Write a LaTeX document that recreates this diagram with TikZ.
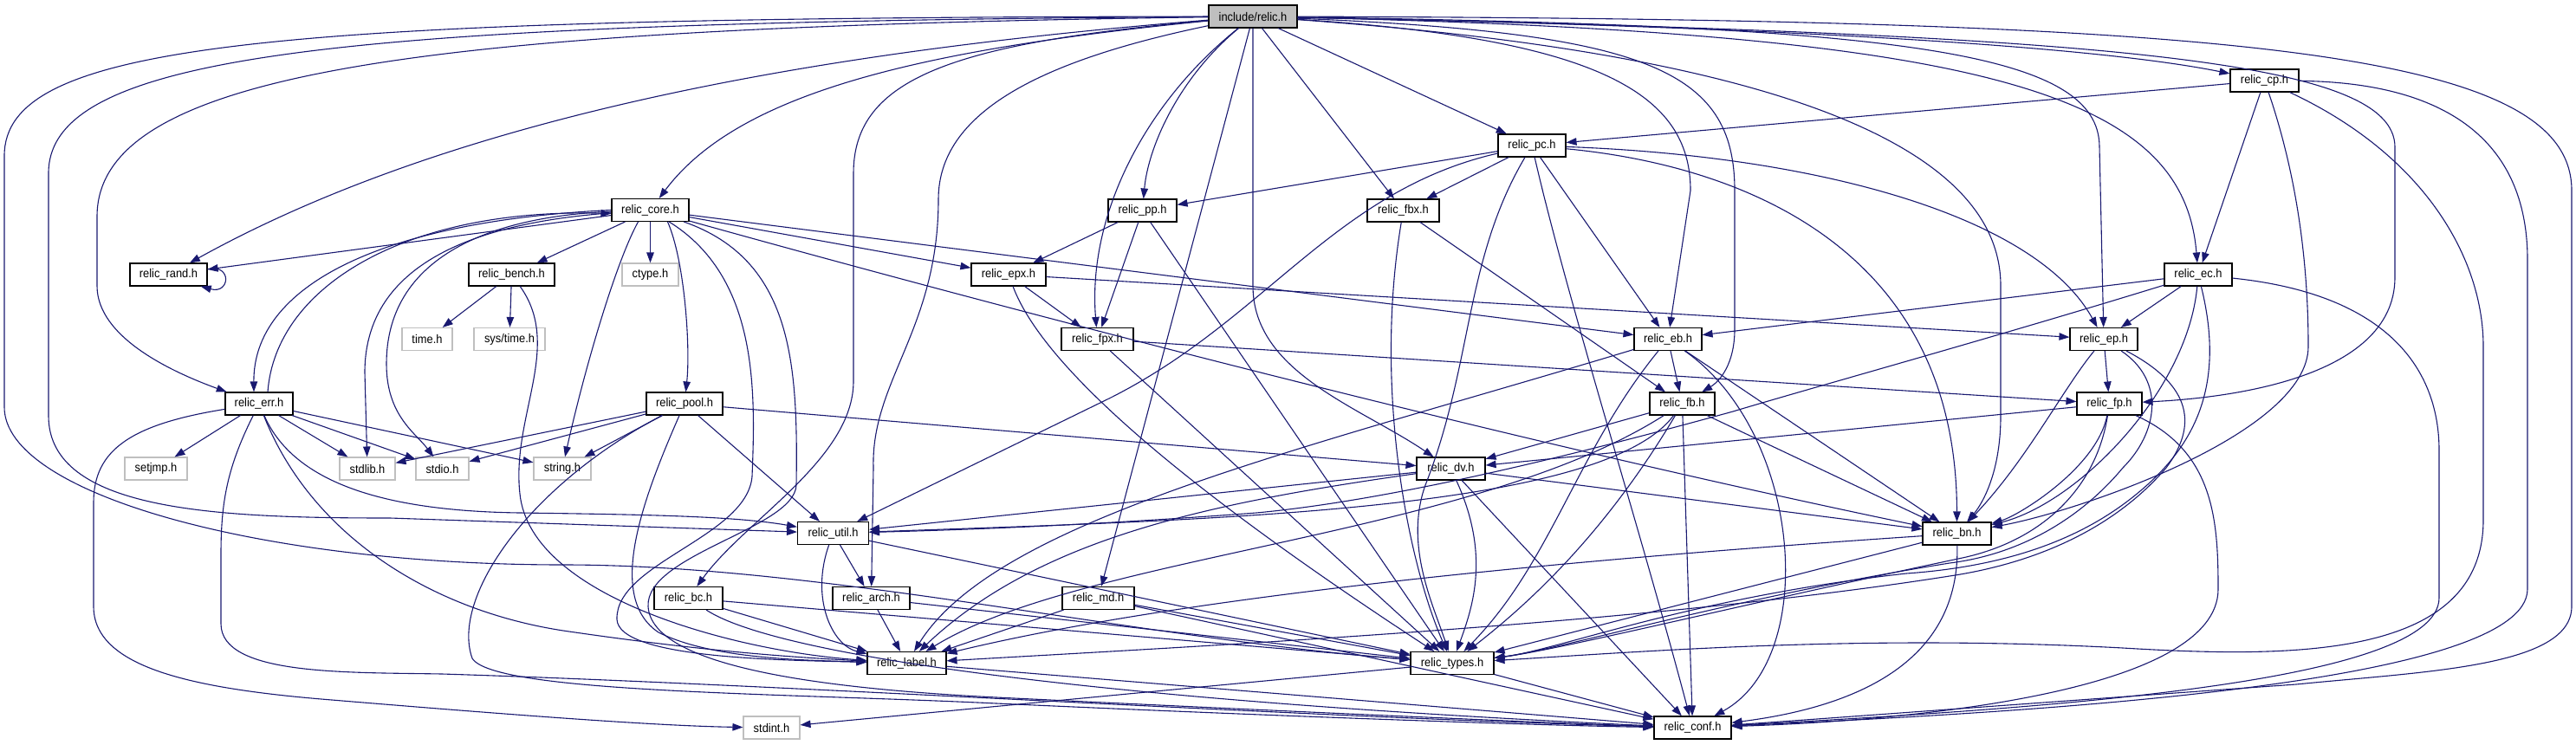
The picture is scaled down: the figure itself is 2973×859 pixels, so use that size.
\documentclass[tikz,border=0pt]{standalone}
\usepackage{fontspec}
\newfontfamily\nodefont{Liberation Sans}[FakeStretch=0.92]
\usetikzlibrary{arrows.meta}
\definecolor{edgec}{HTML}{191970}
\definecolor{sysgray}{HTML}{BFBFBF}
\begin{document}
\begin{tikzpicture}[x=1pt,y=-1pt,
 hdr/.style={draw=black, line width=1.1pt, fill=white, minimum height=26pt, inner sep=0pt, font=\nodefont\fontsize{14}{16}\selectfont},
 sys/.style={hdr, draw=sysgray},
 topf/.style={hdr, fill=sysgray},
 e/.style={draw=edgec, line width=1.1pt, -{Triangle[length=12pt,width=8.5pt]}}]
\useasboundingbox (0,0) rectangle (2973,859);
% nodes
\node[topf, minimum width=102pt] (R) at (1446,19) {include/relic.h};
\node[hdr, minimum width=79pt] (cp) at (2613.5,93) {relic\_cp.h};
\node[hdr, minimum width=78pt] (pc) at (1768,168) {relic\_pc.h};
\node[hdr, minimum width=89pt] (core) at (750.5,242.5) {relic\_core.h};
\node[hdr, minimum width=79pt] (pp) at (1318.5,243) {relic\_pp.h};
\node[hdr, minimum width=83pt] (fbx) at (1619.5,243) {relic\_fbx.h};
\node[hdr, minimum width=89pt] (rand) at (194.5,317) {relic\_rand.h};
\node[hdr, minimum width=99pt] (bench) at (590.5,317) {relic\_bench.h};
\node[sys, minimum width=65pt] (ctype) at (750.5,317) {ctype.h};
\node[hdr, minimum width=86pt] (epx) at (1164,317) {relic\_epx.h};
\node[hdr, minimum width=78pt] (ec) at (2537,317) {relic\_ec.h};
\node[sys, minimum width=58pt] (time) at (493,391.5) {time.h};
\node[sys, minimum width=82pt] (systime) at (588,391.5) {sys/time.h};
\node[hdr, minimum width=83pt] (fpx) at (1266.5,391.5) {relic\_fpx.h};
\node[hdr, minimum width=78pt] (eb) at (1925,391.5) {relic\_eb.h};
\node[hdr, minimum width=78pt] (ep) at (2428,391.5) {relic\_ep.h};
\node[hdr, minimum width=78pt] (err) at (299,466) {relic\_err.h};
\node[hdr, minimum width=88pt] (pool) at (790,466) {relic\_pool.h};
\node[hdr, minimum width=75pt] (fb) at (1941.5,466) {relic\_fb.h};
\node[hdr, minimum width=75pt] (fp) at (2434.5,466) {relic\_fp.h};
\node[sys, minimum width=72pt] (setjmp) at (180,541) {setjmp.h};
\node[sys, minimum width=64pt] (stdlib) at (424,541) {stdlib.h};
\node[sys, minimum width=61pt] (stdio) at (510.5,541) {stdio.h};
\node[sys, minimum width=66pt] (string) at (649,541) {string.h};
\node[hdr, minimum width=79pt] (dv) at (1674.5,541) {relic\_dv.h};
\node[hdr, minimum width=82pt] (util) at (961.5,615.5) {relic\_util.h};
\node[hdr, minimum width=79pt] (bn) at (2258.5,616) {relic\_bn.h};
\node[hdr, minimum width=79pt] (bc) at (794.5,690.5) {relic\_bc.h};
\node[hdr, minimum width=89pt] (arch) at (1005.5,690.5) {relic\_arch.h};
\node[hdr, minimum width=83pt] (md) at (1267.5,690.5) {relic\_md.h};
\node[hdr, minimum width=91pt] (label) at (1046.5,765.5) {relic\_label.h};
\node[hdr, minimum width=96pt] (types) at (1676,765.5) {relic\_types.h};
\node[sys, minimum width=65pt] (stdint) at (890.5,840) {stdint.h};
\node[hdr, minimum width=89pt] (conf) at (1953.5,840) {relic\_conf.h};
% relic.h
\draw[e] (R) .. controls (300,20) and (5,50) .. (5,180) -- (5,470) .. controls (5,570) and (300,652) .. (650,652) .. controls (950,652) and (1300,735) .. (types);
\draw[e] (R) .. controls (400,26) and (56,60) .. (56,200) -- (56,480) .. controls (56,590) and (250,598) .. (450,598) -- (util);
\draw[e] (R) .. controls (500,32) and (112,80) .. (112,250) -- (112,330) .. controls (112,390) and (200,430) .. (err);
\draw[e] (R) .. controls (1000,55) and (550,120) .. (rand);
\draw[e] (R) .. controls (1050,58) and (850,110) .. (core);
\draw[e] (R) .. controls (1100,50) and (985,90) .. (985,200) -- (985,440) .. controls (985,530) and (860,600) .. (bc);
\draw[e] (R) .. controls (1200,70) and (1083,130) .. (1083,230) .. controls (1083,380) and (1005,440) .. (1008,540) -- (arch);
\draw[e] (R) .. controls (1320,120) and (1255,250) .. (fpx);
\draw[e] (R) .. controls (1360,90) and (1325,170) .. (pp);
\draw[e] (R) -- (md);
\draw[e] (R) -- (1446,330) .. controls (1446,430) and (1570,470) .. (dv);
\draw[e] (R) -- (fbx);
\draw[e] (R) -- (pc);
\draw[e] (R) .. controls (1850,45) and (1951,110) .. (1951,220) -- (eb);
\draw[e] (R) .. controls (1900,38) and (2002,80) .. (2002,220) -- (2002,380) .. controls (2002,420) and (1985,440) .. (fb);
\draw[e] (R) .. controls (1950,55) and (2309,140) .. (2309,330) -- (2309,480) .. controls (2309,550) and (2285,585) .. (bn);
\draw[e] (R) .. controls (2200,30) and (2423,60) .. (2423,170) -- (ep);
\draw[e] (R) .. controls (2300,38) and (2520,110) .. (ec);
\draw[e] (R) .. controls (2000,30) and (2400,50) .. (cp);
\draw[e] (R) .. controls (2450,40) and (2764,70) .. (2764,170) -- (2764,320) .. controls (2764,440) and (2560,460) .. (fp);
\draw[e] (R) .. controls (2600,22) and (2968,60) .. (2968,220) -- (2968,700) .. controls (2968,770) and (2800,775) .. (2650,790) .. controls (2300,815) and (2100,830) .. (conf);
% relic_core.h
\draw[e] (core) -- (rand);
\draw[e] (rand.8) .. controls (268,304) and (266,340) .. (rand.-20);
\draw[e] (core) -- (bench);
\draw[e] (core) -- (ctype);
\draw[e] (core.west) .. controls (440,255) and (292,330) .. ([xshift=-6pt]err.north);
\draw[e] ([xshift=10pt]err.north) .. controls (318,330) and (470,240) .. ([yshift=-4pt]core.west);
\draw[e] (core) .. controls (580,255) and (421,290) .. (421,430) -- (stdlib);
\draw[e] (core) .. controls (560,250) and (446,300) .. (446,420) .. controls (446,480) and (480,500) .. (stdio);
\draw[e] ([xshift=-14pt]core.south) .. controls (712,300) and (676,420) .. (string);
\draw[e] ([xshift=20pt]core.south) .. controls (790,300) and (797,400) .. (pool);
\draw[e] (core) .. controls (875,320) and (872,450) .. (868,550) .. controls (862,620) and (710,650) .. (712,715) .. controls (714,760) and (900,762) .. (label);
\draw[e] (core) .. controls (915,300) and (921,420) .. (919,560) .. controls (917,610) and (745,640) .. (748,700) .. controls (752,770) and (950,795) .. (1150,805) .. controls (1500,822) and (1800,835) .. (conf);
\draw[e] (core) -- (epx);
\draw[e] (core) -- (eb);
\draw[e] (core) .. controls (1100,340) and (1700,500) .. (bn);
% relic_err.h
\draw[e] (err) -- (setjmp);
\draw[e] (err) -- (stdlib);
\draw[e] (err) -- (stdio);
\draw[e] (err) -- (string);
\draw[e] (err) .. controls (340,560) and (450,590) .. (600,592) .. controls (750,594) and (850,596) .. (util);
\draw[e] (err) .. controls (360,620) and (500,705) .. (650,728) .. controls (800,750) and (900,758) .. (label);
\draw[e] (err) .. controls (262,540) and (255,580) .. (255,640) -- (255,720) .. controls (255,780) and (400,776) .. (510,778) .. controls (900,790) and (1500,828) .. (conf);
\draw[e] (err) .. controls (150,490) and (108,520) .. (108,580) -- (108,700) .. controls (108,770) and (220,795) .. (383,808) .. controls (600,826) and (760,838) .. (stdint);
% relic_bench.h
\draw[e] (bench) -- (time);
\draw[e] (bench) -- (systime);
\draw[e] (bench) .. controls (650,400) and (590,480) .. (600,570) .. controls (612,690) and (850,752) .. (label);
% relic_pool.h
\draw[e] (pool) -- (stdlib);
\draw[e] (pool) -- (stdio);
\draw[e] (pool) -- (string);
\draw[e] (pool) -- (util);
\draw[e] (pool) -- (dv);
\draw[e] (pool) .. controls (740,580) and (700,690) .. (760,730) .. controls (820,760) and (920,762) .. (label);
\draw[e] (pool) .. controls (610,560) and (520,690) .. (545,760) .. controls (570,800) and (900,800) .. (1150,812) .. controls (1500,828) and (1800,838) .. (conf);
% relic_util.h, arch, bc, md, label, types
\draw[e] (util) -- (arch);
\draw[e] (util) .. controls (935,690) and (960,745) .. (label);
\draw[e] (util) -- (types);
\draw[e] (arch) -- (label);
\draw[e] (arch) -- (types);
\draw[e] (bc) -- (label);
\draw[e] (bc) -- (types);
\draw[e] (bc) .. controls (900,760) and (1300,810) .. (conf);
\draw[e] (md) -- (label);
\draw[e] (md) -- (types);
\draw[e] (md) -- (conf);
\draw[e] (label) -- (conf);
\draw[e] (types) -- (conf);
\draw[e] (types) -- (stdint);
% pp, epx, fpx, fbx
\draw[e] (pp) -- (epx);
\draw[e] (pp) -- (fpx);
\draw[e] (pp) -- (types);
\draw[e] (epx) -- (fpx);
\draw[e] (epx) -- (ep);
\draw[e] (epx) .. controls (1195,400) and (1300,520) .. (types);
\draw[e] (fpx) -- (fp);
\draw[e] (fpx) -- (types);
\draw[e] (fbx) -- (fb);
\draw[e] (fbx) .. controls (1585,450) and (1625,650) .. (types);
% relic_pc.h
\draw[e] (pc) -- (pp);
\draw[e] (pc) -- (fbx);
\draw[e] (pc) -- (eb);
\draw[e] (pc) .. controls (1540,220) and (1460,370) .. (1280,460) -- (util);
\draw[e] (pc) .. controls (1690,300) and (1700,420) .. (1645,560) .. controls (1620,630) and (1655,700) .. (types);
\draw[e] (pc) .. controls (1810,350) and (1890,600) .. (conf);
\draw[e] (pc) .. controls (2100,180) and (2350,250) .. (ep);
\draw[e] (pc) .. controls (2000,190) and (2258,280) .. (bn);
% relic_eb.h
\draw[e] (eb) -- (fb);
\draw[e] (eb) -- (bn);
\draw[e] (eb) .. controls (1500,520) and (1150,600) .. (label);
\draw[e] (eb) .. controls (1820,520) and (1790,650) .. (types);
\draw[e] (eb) .. controls (2080,500) and (2100,760) .. (conf);
% relic_fb.h
\draw[e] (fb) -- (dv);
\draw[e] (fb) -- (conf);
\draw[e] (fb) -- (bn);
\draw[e] (fb) .. controls (1850,590) and (1400,600) .. (util);
\draw[e] (fb) .. controls (1700,620) and (1250,640) .. (label);
\draw[e] (fb) .. controls (1850,620) and (1760,700) .. (types);
% relic_dv.h
\draw[e] (dv) -- (util);
\draw[e] (dv) .. controls (1400,580) and (1200,620) .. (label);
\draw[e] (dv) .. controls (1720,640) and (1700,700) .. (types);
\draw[e] (dv) -- (conf);
\draw[e] (dv) -- (bn);
% relic_bn.h
\draw[e] (bn) .. controls (1900,640) and (1400,680) .. (label);
\draw[e] (bn) -- (types);
\draw[e] (bn) .. controls (2262,760) and (2150,815) .. (conf);
% relic_ec.h
\draw[e] (ec) -- (eb);
\draw[e] (ec) -- (ep);
\draw[e] (ec) .. controls (2525,450) and (2400,580) .. (bn);
\draw[e] (ec) .. controls (2300,390) and (2100,445) .. (2000,475) .. controls (1800,530) and (1600,578) .. (1450,592) .. controls (1250,607) and (1100,612) .. (util);
\draw[e] (ec) .. controls (2570,450) and (2530,520) .. (2460,575) .. controls (2390,630) and (2300,655) .. (2200,662) .. controls (1950,690) and (1800,750) .. (types);
\draw[e] (ec) .. controls (2760,340) and (2815,430) .. (2815,520) -- (2815,690) .. controls (2815,790) and (2350,818) .. (conf);
% relic_ep.h
\draw[e] (ep) -- (fp);
\draw[e] (ep) .. controls (2380,450) and (2340,530) .. (bn);
\draw[e] (ep) .. controls (2500,440) and (2490,500) .. (2450,540) .. controls (2400,600) and (2330,640) .. (2250,650) .. controls (2000,690) and (1800,750) .. (types);
\draw[e] (ep) .. controls (2540,450) and (2530,500) .. (2500,540) .. controls (2440,610) and (2350,650) .. (2250,665) .. controls (1900,720) and (1400,745) .. (label);
% relic_fp.h
\draw[e] (fp) .. controls (2420,540) and (2330,595) .. (bn);
\draw[e] (fp) -- (dv);
\draw[e] (fp) .. controls (2420,560) and (2360,625) .. (2260,645) .. controls (2000,700) and (1800,750) .. (types);
\draw[e] (fp) .. controls (2555,520) and (2560,600) .. (2560,680) .. controls (2560,800) and (2200,832) .. (conf);
% relic_cp.h
\draw[e] (cp) -- (pc);
\draw[e] (cp) -- (ec);
\draw[e] (cp) .. controls (2650,200) and (2664,300) .. (2664,400) .. controls (2664,500) and (2400,590) .. (bn);
\draw[e] (cp) .. controls (2800,180) and (2866,300) .. (2866,400) -- (2866,600) .. controls (2866,760) and (2650,760) .. (2450,748) .. controls (2150,732) and (1900,752) .. (types);
\draw[e] (cp) .. controls (2820,95) and (2917,160) .. (2917,300) -- (2917,680) .. controls (2917,790) and (2350,822) .. (conf);
\end{tikzpicture}
\end{document}
